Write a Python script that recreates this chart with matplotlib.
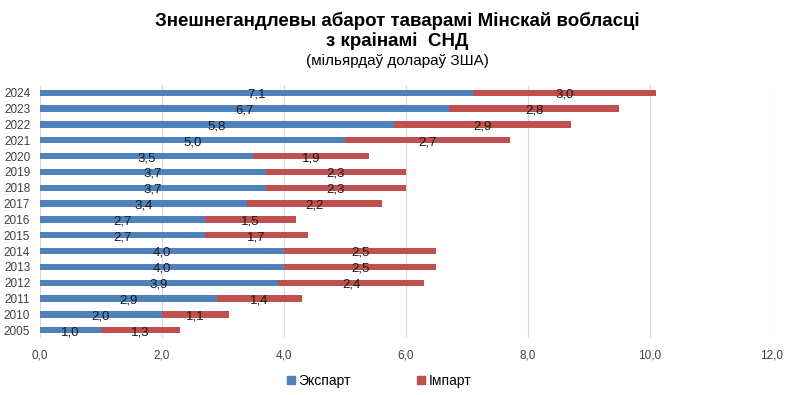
import matplotlib
matplotlib.use("Agg")
import matplotlib.pyplot as plt
from matplotlib.patches import Patch

plt.rcParams['font.family'] = ['Liberation Sans', 'DejaVu Sans']

years = ["2005", "2010", "2011", "2012", "2013", "2014", "2015", "2016",
         "2017", "2018", "2019", "2020", "2021", "2022", "2023", "2024"]
export = [1.0, 2.0, 2.9, 3.9, 4.0, 4.0, 2.7, 2.7, 3.4, 3.7, 3.7, 3.5, 5.0, 5.8, 6.7, 7.1]
imports = [1.3, 1.1, 1.4, 2.4, 2.5, 2.5, 1.7, 1.5, 2.2, 2.3, 2.3, 1.9, 2.7, 2.9, 2.8, 3.0]
xticks = [0, 2, 4, 6, 8, 10, 12]

blue = "#4F81BD"
red = "#C0504D"

fig = plt.figure(figsize=(7.95, 3.95), dpi=100)
ax = fig.add_axes([0.0503, 0.144, 0.9207, 0.641])

y = list(range(len(years)))
ax.barh(y, export, height=0.4, color=blue, zorder=3)
ax.barh(y, imports, left=export, height=0.4, color=red, zorder=3)

for i in y:
    ax.text(export[i] / 2, i - 0.12, f"{export[i]:.1f}".replace('.', ','),
            ha='center', va='center', fontsize=9.5, color='#1a1a1a', zorder=4)
    ax.text(export[i] + imports[i] / 2, i - 0.12, f"{imports[i]:.1f}".replace('.', ','),
            ha='center', va='center', fontsize=9.5, color='#1a1a1a', zorder=4)

ax.set_xlim(0, 12)
ax.set_ylim(-0.5, len(years) - 0.5)
ax.set_yticks(y)
ax.set_yticklabels(years, fontsize=8.5, color='#404040')
ax.set_xticks(xticks)
ax.set_xticklabels([f"{v:.1f}".replace('.', ',') for v in xticks], fontsize=8.5, color='#404040')
ax.tick_params(axis='both', length=0)
ax.tick_params(axis='x', pad=8)
ax.tick_params(axis='y', pad=7)
ax.grid(axis='x', color='#d9d9d9', linewidth=0.8, zorder=0)
for s in ax.spines.values():
    s.set_visible(False)

fig.text(0.5, 0.948, "Знешнегандлевы абарот таварамі Мінскай вобласці", ha='center', va='center',
         fontsize=13.5, fontweight='bold')
fig.text(0.5, 0.897, "з краінамі  СНД", ha='center', va='center',
         fontsize=13.5, fontweight='bold')
fig.text(0.5, 0.845, "(мільярдаў долараў ЗША)", ha='center', va='center', fontsize=11)

handles = [Patch(color=blue, label="Экспарт"), Patch(color=red, label="Імпарт")]
fig.legend(handles=handles, loc='center', bbox_to_anchor=(0.477, 0.035), ncol=2, frameon=False,
           fontsize=10, handlelength=0.55, handleheight=0.55, handletextpad=0.25, columnspacing=4.8)

fig.savefig("out.png", dpi=100)
